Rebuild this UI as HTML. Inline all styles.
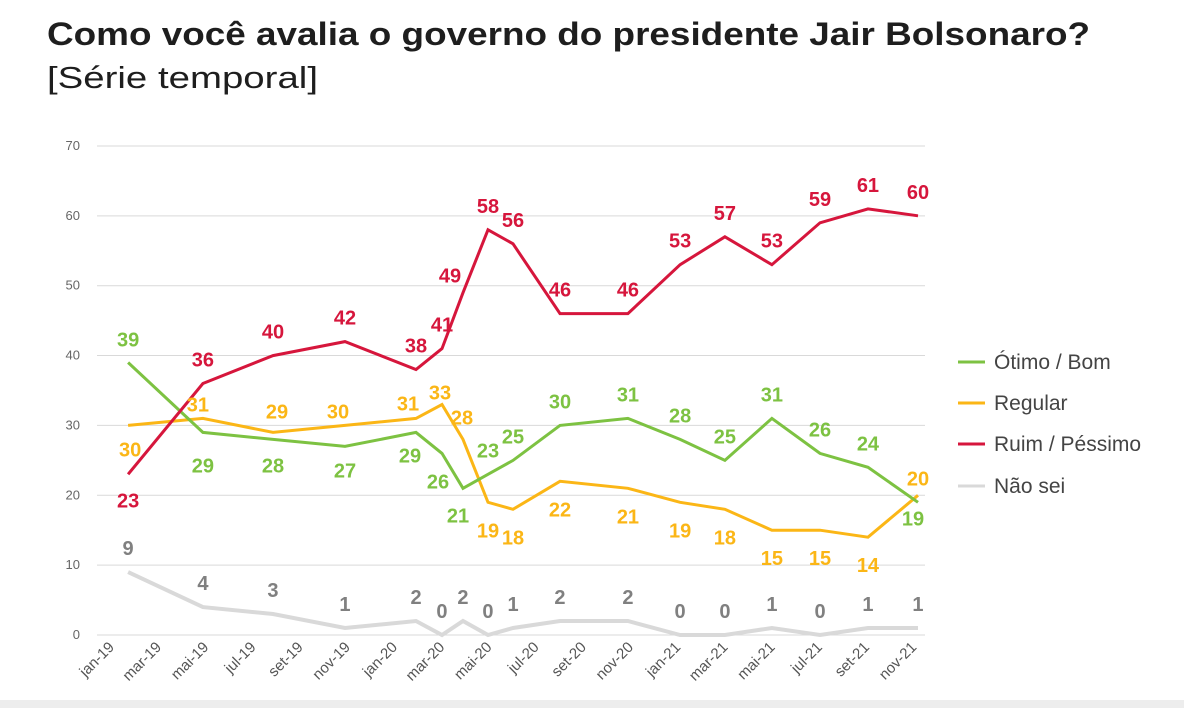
<!DOCTYPE html>
<html><head><meta charset="utf-8">
<style>
html,body{margin:0;padding:0;background:#fff;}
svg{display:block;font-family:"Liberation Sans",sans-serif;}
</style></head>
<body>
<svg id="chart" width="1184" height="708" viewBox="0 0 1184 708">
<text x="47" y="45" font-size="32" font-weight="bold" fill="#1e1e1e" textLength="1043" lengthAdjust="spacingAndGlyphs">Como você avalia o governo do presidente Jair Bolsonaro?</text>
<text x="47" y="88" font-size="31" fill="#1e1e1e" textLength="271" lengthAdjust="spacingAndGlyphs">[Série temporal]</text>
<g id="grid"></g><g id="xaxis"></g><g id="lines"></g><g id="labels"></g><g id="legend"></g>
<rect x="0" y="700" width="1184" height="8" fill="#ededed"/>
</svg>
<script>
// x positions in months since jan-19
const months = [0.47,3.64,6.61,9.66,12.67,13.77,14.66,15.72,16.78,18.77,21.65,23.86,25.76,27.75,29.79,31.82,33.94];
const tickLabels = ["jan-19","mar-19","mai-19","jul-19","set-19","nov-19","jan-20","mar-20","mai-20","jul-20","set-20","nov-20","jan-21","mar-21","mai-21","jul-21","set-21","nov-21"];
const yTicks = [0,10,20,30,40,50,60,70];
const otimo = [39,29,28,27,29,26,21,23,25,30,31,28,25,31,26,24,19];
const regular = [30,31,29,30,31,33,28,19,18,22,21,19,18,15,15,14,20];
const ruim = [23,36,40,42,38,41,49,58,56,46,46,53,57,53,59,61,60];
const naosei = [9,4,3,1,2,0,2,0,1,2,2,0,0,1,0,1,1];

const NS="http://www.w3.org/2000/svg";
const xs = m => 117 + m*23.6;
const ys = v => 635 - v*6.986;
function mk(tag, attrs, parent){const e=document.createElementNS(NS,tag);for(const k in attrs)e.setAttribute(k,attrs[k]);parent.appendChild(e);return e;}
const grid=document.getElementById('grid'), xa=document.getElementById('xaxis'),
 lines=document.getElementById('lines'), labs=document.getElementById('labels'), leg=document.getElementById('legend');

yTicks.forEach(t=>{
  const l=mk('line',{x1:97,x2:925,y1:ys(t),y2:ys(t),stroke:'#d9d9d9','stroke-width':1},grid);
  
  
  const tx=mk('text',{x:80,y:ys(t)+4,'text-anchor':'end','font-size':13,fill:'#666'},grid);
  tx.textContent=t;
  
  
});
tickLabels.forEach((lab,i)=>{
  const x=xs(i*2)-2, y=648;
  const tx=mk('text',{x:x,y:y,'text-anchor':'end','font-size':15,fill:'#555',transform:`rotate(-45 ${x} ${y})`},xa);
  tx.textContent=lab;
  
  
});

const series=[
 {name:'naosei',vals:naosei,color:'#d9d9d9',w:4,lab:'#808080',off:i=>[0,-24]},
 {name:'regular',vals:regular,color:'#fbb616',w:3,lab:'#fbb616',off:i=>{
   const o={0:[2,24],1:[-5,-14],2:[4,-21],3:[-7,-14],4:[-8,-15],5:[-2,-12],6:[-1,-22],16:[0,-17]};
   return o[i]||[0,28];}},
 {name:'otimo',vals:otimo,color:'#7dc242',w:3,lab:'#7dc242',off:i=>{
   const o={0:[0,-23],1:[0,33],2:[0,26],3:[0,24],4:[-6,23],5:[-4,28],6:[-5,27],16:[-5,16]};
   return o[i]||[0,-24];}},
 {name:'ruim',vals:ruim,color:'#d6163c',w:3,lab:'#d6163c',off:i=>{
   const o={0:[0,26],6:[-13,-17]};
   return o[i]||[0,-24];}}
];
series.forEach(s=>{
  const pts=s.vals.map((v,i)=>xs(months[i]).toFixed(1)+','+ys(v).toFixed(1)).join(' ');
  const pl=mk('polyline',{points:pts,fill:'none',stroke:s.color,'stroke-width':s.w,'stroke-linejoin':'miter'},lines);
  
  
  s.vals.forEach((v,i)=>{
    const [dx,dy]=s.off(i);
    const t=mk('text',{x:xs(months[i])+dx,y:ys(v)+dy+7,'text-anchor':'middle','font-size':20,'font-weight':'bold',fill:s.lab},labs);
    t.textContent=v;
    
    
  });
});
const legendItems=[['Ótimo / Bom','#7dc242',362],['Regular','#fbb616',403],['Ruim / Péssimo','#d6163c',444],['Não sei','#d9d9d9',486]];
legendItems.forEach(([n,c,y])=>{
  const g=mk('g',{},leg);
  
  
  mk('line',{x1:958,x2:985,y1:y,y2:y,stroke:c,'stroke-width':3},g);
  const t=mk('text',{x:994,y:y+7,'font-size':21,fill:'#444'},g);
  t.textContent=n;
});
</script>
</body></html>
